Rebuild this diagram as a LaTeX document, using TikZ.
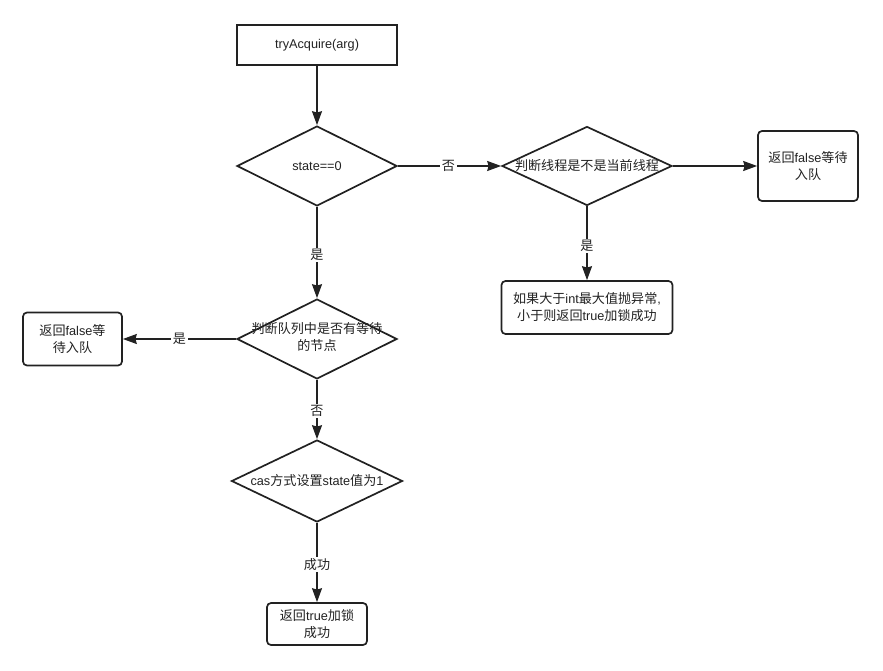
\documentclass[tikz,border=0pt]{standalone}
\usepackage{fontspec}
\setmainfont{Liberation Sans}
\newfontfamily\zhf[Scale=1.03]{Noto Sans CJK SC}
\newcommand\zh[1]{{\zhf #1}}
\usetikzlibrary{shapes.geometric,arrows.meta}
\definecolor{ln}{HTML}{222222}
\begin{document}
\begin{tikzpicture}[x=1pt,y=-1pt,
  font=\fontsize{12.7}{17}\selectfont,
  every node/.style={text=ln},
  sq/.style={draw=ln, line width=1.7pt, rectangle, inner sep=0pt, align=center},
  rbox/.style={sq, rounded corners=4pt},
  dia/.style={draw=ln, line width=1.7pt, diamond, inner sep=0pt, align=center},
  arr/.style={draw=ln, line width=1.7pt, -{Stealth[length=14pt,width=10pt,inset=1.5pt]}},
  lbl/.style={fill=white, inner sep=1.5pt}]
\useasboundingbox (0,0) rectangle (883,671);
\fill[white] (0,0) rectangle (883,671);

\node[sq, minimum width=160pt, minimum height=40pt] (start) at (317,45) {tryAcquire(arg)};
\node[dia, minimum width=160pt, minimum height=80pt] (d1) at (317,166) {\makebox[0pt]{state==0}};
\node[dia, minimum width=170pt, minimum height=79pt] (d2) at (587,166) {\makebox[0pt]{\zh{判断线程是不是当前线程}}};
\node[rbox, minimum width=100pt, minimum height=70pt] (rb) at (808,166) {\zh{返回}false\zh{等待}\\\zh{入队}};
\node[rbox, minimum width=171pt, minimum height=53pt] (ib) at (587,307.5) {\zh{如果大于}int\zh{最大值抛异常},\\\zh{小于则返回}true\zh{加锁成功}};
\node[dia, minimum width=160pt, minimum height=80pt] (d3) at (317,339) {\makebox[0pt]{\begin{tabular}{@{}c@{}}\zh{判断队列中是否有等待}\\[0pt]\zh{的节点}\end{tabular}}};
\node[rbox, minimum width=99pt, minimum height=53pt] (lb) at (72.5,339) {\zh{返回}false\zh{等}\\\zh{待入队}};
\node[dia, minimum width=171pt, minimum height=82pt] (d4) at (317,481) {\makebox[0pt]{cas\zh{方式设置}state\zh{值为}1}};
\node[rbox, minimum width=100pt, minimum height=42pt] (fb) at (317,624) {\zh{返回}true\zh{加锁}\\\zh{成功}};

\draw[arr] (start) -- (d1);
\draw[arr] (d1.east) -- node[lbl, pos=0.49] {\zh{否}} (d2.west);
\draw[arr] (d2.east) -- (rb.west);
\draw[arr] (d2.south) -- node[lbl, pos=0.54] {\zh{是}} (ib.north);
\draw[arr] (d1.south) -- node[lbl, pos=0.53] {\zh{是}} (d3.north);
\draw[arr] (d3.west) -- node[lbl, pos=0.5] {\zh{是}} (lb.east);
\draw[arr] (d3.south) -- node[lbl, pos=0.52] {\zh{否}} (d4.north);
\draw[arr] (d4.south) -- node[lbl, pos=0.53] {\zh{成功}} (fb.north);
\end{tikzpicture}
\end{document}
